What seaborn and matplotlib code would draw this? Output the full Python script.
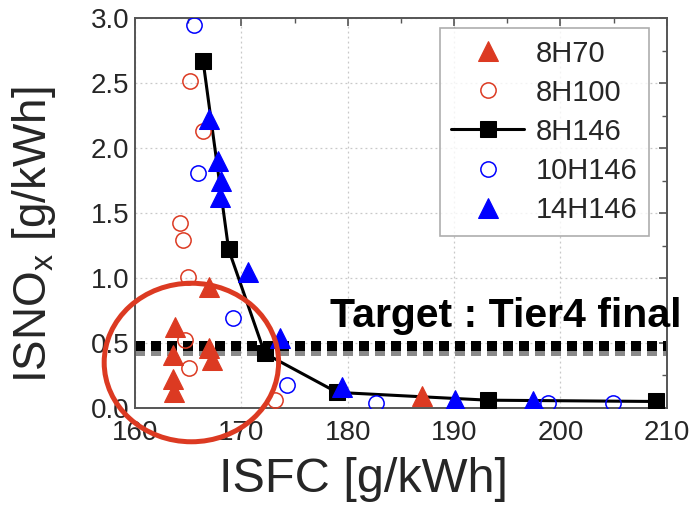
import matplotlib
matplotlib.use("Agg")
import matplotlib.pyplot as plt
from matplotlib.patches import Ellipse
from matplotlib.ticker import MultipleLocator
import seaborn as sns
import pandas as pd

# ---- data ----
h70_x = [167.0, 163.8, 163.6, 167.0, 167.2, 163.6, 163.7, 187.0]
h70_y = [0.93, 0.62, 0.41, 0.46, 0.37, 0.22, 0.12, 0.09]

h100_x = [165.2, 166.4, 164.2, 164.5, 165.0, 164.7, 165.1, 173.2]
h100_y = [2.52, 2.13, 1.42, 1.29, 1.01, 0.52, 0.31, 0.06]

h146_x = [166.4, 168.8, 172.2, 179.0, 193.2, 209.0]
h146_y = [2.67, 1.22, 0.42, 0.12, 0.06, 0.05]

h10_x = [165.5, 165.9, 169.2, 174.3, 182.7, 198.8, 204.9]
h10_y = [2.95, 1.81, 0.69, 0.18, 0.04, 0.04, 0.04]

h14_x = [167.0, 167.8, 168.1, 168.0, 170.6, 173.6, 179.5, 190.1, 197.4]
h14_y = [2.22, 1.90, 1.75, 1.62, 1.05, 0.54, 0.16, 0.06, 0.05]

target_y = 0.46
xlim = (160, 210)
ylim = (0.0, 3.0)
xticks = [160, 170, 180, 190, 200, 210]
yticks = [0.0, 0.5, 1.0, 1.5, 2.0, 2.5, 3.0]

RED = "#dc3a22"
BLUE = "#0000ff"

sns.set_theme(style="white")
plt.rcParams["font.family"] = ["Liberation Sans", "DejaVu Sans"]
plt.rcParams["mathtext.default"] = "regular"

fig = plt.figure(figsize=(6.96, 5.15), dpi=100)
ax = fig.add_axes([0.194, 0.2078, 0.764, 0.757])

# target lines (shadow + black dotted)
ax.axhline(target_y - 0.025, color="#8a8a8a", lw=7.2, dashes=(1.0, 0.6), zorder=2)
ax.axhline(target_y + 0.02, color="black", lw=7.2, dashes=(1.0, 0.6), zorder=2.1)

def series(x, y, **kw):
    df = pd.DataFrame({"x": x, "y": y})
    sns.lineplot(data=df, x="x", y="y", ax=ax, sort=False, estimator=None, **kw)

series(h70_x, h70_y, linestyle="none", marker="^", markersize=14,
       color=RED, markeredgecolor=RED, label="8H70", zorder=4)
series(h100_x, h100_y, linestyle="none", marker="o", markersize=11,
       color=RED, markerfacecolor="none", markeredgecolor=RED,
       markeredgewidth=1.1, label="8H100", zorder=4)
series(h146_x, h146_y, color="black", lw=2.2, marker="s", markersize=12,
       markeredgecolor="black", label="8H146", zorder=3)
series(h10_x, h10_y, linestyle="none", marker="o", markersize=11,
       color=BLUE, markerfacecolor="none", markeredgecolor=BLUE,
       markeredgewidth=1.1, label="10H146", zorder=4)
series(h14_x, h14_y, linestyle="none", marker="^", markersize=14,
       color=BLUE, markeredgecolor=BLUE, label="14H146", zorder=4)

# highlight ellipse
ell = Ellipse((165.3, 0.35), 16.4, 1.22, fill=False, edgecolor=RED, lw=3.6,
              clip_on=False, zorder=6)
ax.add_patch(ell)

ax.text(178.3, 0.62, "Target : Tier4 final", fontsize=29.5, fontweight="bold",
        color="black", ha="left", va="baseline", zorder=7, clip_on=False)

ax.set_xlim(*xlim)
ax.set_ylim(*ylim)
ax.set_xticks(xticks)
ax.set_yticks(yticks)
ax.set_xticklabels([str(t) for t in xticks])
ax.set_yticklabels([f"{t:.1f}" for t in yticks])
ax.xaxis.set_minor_locator(MultipleLocator(5))
ax.yaxis.set_minor_locator(MultipleLocator(0.25))
ax.tick_params(which="both", direction="in", top=True, right=True,
               color="#555555", labelsize=20, pad=4)
ax.tick_params(axis="x", which="major", pad=9)
ax.tick_params(which="major", length=6, width=1.2)
ax.tick_params(which="minor", length=3.5, width=1.0)
ax.grid(True, which="major", linestyle=(0, (1.5, 2.5)), color="#c8c8c8", lw=0.9)
for s in ax.spines.values():
    s.set_color("#555555")
    s.set_linewidth(1.4)

ax.set_xlabel("ISFC [g/kWh]", fontsize=35)
ax.xaxis.set_label_coords(0.429, -0.125)
ax.set_ylabel("ISNO$_x$ [g/kWh]", fontsize=33)
ax.yaxis.set_label_coords(-0.145, 0.445)

leg = ax.legend(loc="upper right", bbox_to_anchor=(0.967, 0.975), fontsize=21,
                frameon=True, fancybox=False, edgecolor="#999999",
                borderpad=0.4, labelspacing=0.38, handlelength=2.5,
                handletextpad=0.4, borderaxespad=0.0)
leg.get_frame().set_linewidth(1.2)
leg.set_zorder(8)

fig.savefig("out.png", dpi=100)
